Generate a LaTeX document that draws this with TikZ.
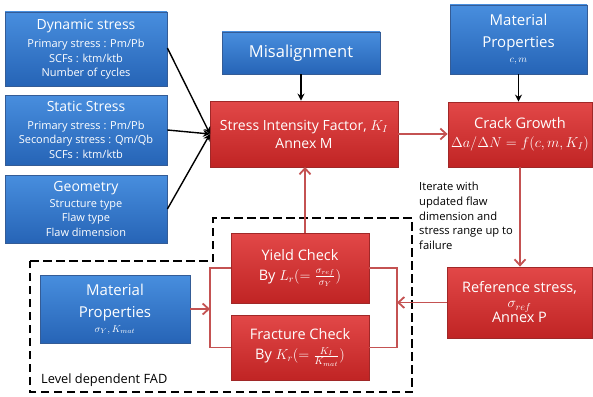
\documentclass[tikz,border=0pt]{standalone}
\usepackage{fontspec}
\setmainfont{Open Sans}
\usetikzlibrary{arrows.meta}
\definecolor{bluetop}{RGB}{72,142,222}
\definecolor{bluebot}{RGB}{38,100,182}
\definecolor{blueedge}{RGB}{52,92,150}
\definecolor{redtop}{RGB}{226,72,72}
\definecolor{redbot}{RGB}{192,36,36}
\definecolor{rededge}{RGB}{160,40,40}
\definecolor{redline}{RGB}{196,82,82}
\newcommand\ttl{\fontsize{14}{17}\selectfont}
\newcommand\sbt{\fontsize{11}{14.5}\selectfont}
\begin{document}
\begin{tikzpicture}[x=1pt,y=-1pt,
  box/.style={draw, line width=0.8pt, inner sep=1pt, text=white, align=center, anchor=center},
  bluebox/.style={box, draw=blueedge, top color=bluetop, bottom color=bluebot},
  redbox/.style={box, draw=rededge, top color=redtop, bottom color=redbot},
  blk/.style={draw=black, line width=1.4pt, -{Stealth[length=7pt,width=7pt]}},
  redarr/.style={draw=redline, line width=1.8pt, -{Straight Barb[length=6pt,width=11pt]}},
  redln/.style={draw=redline, line width=1.8pt},
  fad/.style={draw=black, line width=2.8pt, dash pattern=on 8.5pt off 4.5pt}]
\useasboundingbox (0,0) rectangle (593,396);

% left inputs
\node[bluebox, minimum width=162pt, minimum height=74pt, font=\sbt] (dyn) at (86,49)
  {{\ttl Dynamic stress}\\[4pt]Primary stress : Pm/Pb\\SCFs : ktm/ktb\\Number of cycles};
\node[bluebox, minimum width=162pt, minimum height=70pt, font=\sbt] (sta) at (86,130)
  {{\ttl Static Stress}\\[3pt]Primary stress : Pm/Pb\\Secondary stress : Qm/Qb\\SCFs : ktm/ktb};
\node[bluebox, minimum width=162pt, minimum height=68pt, font=\sbt] (geo) at (86,209)
  {{\ttl Geometry}\\[1pt]Structure type\\Flaw type\\Flaw dimension};

% top middle
\node[bluebox, minimum width=158pt, minimum height=42pt, font=\fontsize{16.5}{19}\selectfont] (mis) at (301,53) {Misalignment};
\node[redbox, minimum width=188pt, minimum height=66pt, font=\fontsize{14}{18}\selectfont] (sif) at (304,134)
  {Stress Intensity Factor, $K_I$\\Annex M};

% right column
\node[bluebox, minimum width=137pt, minimum height=69pt, font=\fontsize{15}{22}\selectfont] (mtr) at (518.5,39.5)
  {Material\\Properties\\[-7pt]{\fontsize{10}{11}\selectfont $c,m$}};
\node[redbox, minimum width=144pt, minimum height=65pt, font=\fontsize{14.6}{19}\selectfont] (crk) at (520,134.5)
  {Crack Growth\\$\Delta a/\Delta N=f(c,m,K_I)$};
\node[redbox, minimum width=145pt, minimum height=71pt, font=\fontsize{14.5}{18}\selectfont] (ref) at (519.5,302.5)
  {Reference stress,\\[-3pt]$\sigma_{ref}$\\[-3pt]Annex P};

% FAD checks
\node[redbox, minimum width=138pt, minimum height=70pt, font=\fontsize{14.5}{18}\selectfont] (yld) at (300,268)
  {Yield Check\\[2pt]By $L_r(=\frac{\sigma_{ref}}{\sigma_Y})$};
\node[redbox, minimum width=138pt, minimum height=65pt, font=\fontsize{14.5}{18}\selectfont] (frc) at (300,347.5)
  {Fracture Check\\[2pt]By $K_r(=\frac{K_I}{K_{mat}})$};
\node[bluebox, minimum width=150pt, minimum height=68pt, font=\fontsize{15}{22}\selectfont] (mlo) at (115,309)
  {Material\\Properties\\[-7pt]{\fontsize{10}{11}\selectfont $\sigma_Y, K_{mat}$}};

% dashed FAD frame
\draw[fad] (30,261) -- (213,261) -- (213,218) -- (412,218) -- (412,392) -- (30,392) -- cycle;
\node[anchor=west, font=\fontsize{12.8}{14}\selectfont, inner sep=0pt] (fadlbl) at (41,380) {Level dependent FAD};

% iterate note
\node[anchor=north west, align=left, inner sep=0pt, font=\fontsize{11.2}{14.7}\selectfont] (note) at (419,182)
  {Iterate with\\updated flaw\\dimension and\\stress range up to\\failure};

% black connectors
\coordinate (sifin) at (210,134);
\draw[blk] (dyn.east) ++(0,-1) -- (sifin);
\draw[blk] (sta.east) -- (sifin);
\draw[blk] (geo.east) -- (sifin);
\draw[blk] (mis.south) -- (mis.south |- sif.north);
\draw[blk] (mtr.south) -- (mtr.south |- crk.north);

% red connectors
\draw[redarr] (yld.north -| 305,0) -- (305,167);
\draw[redarr] (sif.east) -- (sif.east -| crk.west);
\draw[redarr] (crk.south) -- (crk.south |- ref.north);
\coordinate (lb) at (210,309);
\coordinate (rb) at (397,302.5);
\draw[redln] (yld.west) -| (lb) |- (frc.west);
\draw[redln] (yld.east) -| (rb) |- (frc.east);
\draw[redarr] (mlo.east) -- (lb);
\draw[redarr] (ref.west) -- (rb);
\end{tikzpicture}
\end{document}
